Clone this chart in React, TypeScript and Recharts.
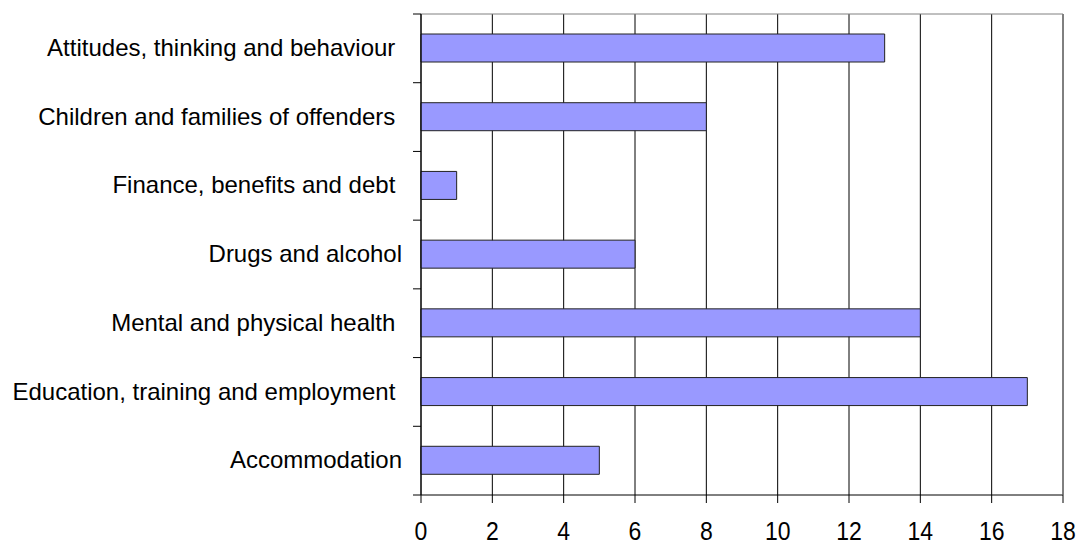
import React from 'react';
import { BarChart, Bar, XAxis, YAxis, CartesianGrid } from 'recharts';

const categories = [
  'Attitudes, thinking and behaviour ',
  'Children and families of offenders ',
  'Finance, benefits and debt ',
  'Drugs and alcohol',
  'Mental and physical health ',
  'Education, training and employment ',
  'Accommodation',
];
const counts = [13, 8, 1, 6, 14, 17, 5];
const xTicks = [0, 2, 4, 6, 8, 10, 12, 14, 16, 18];

const WIDTH = 1084;
const HEIGHT = 545;
const MARGIN = { top: 13, right: 20, bottom: 0, left: 0 };
const Y_AXIS_WIDTH = 421;
const X_AXIS_HEIGHT = 50;
const TOP_AXIS_HEIGHT = 1;
const PLOT_HEIGHT = HEIGHT - MARGIN.top - MARGIN.bottom - X_AXIS_HEIGHT - TOP_AXIS_HEIGHT;
const BAND = PLOT_HEIGHT / categories.length;
const FONT = '"Liberation Sans", Arial, sans-serif';

const data = categories.map((name, i) => ({ name, count: counts[i] }));

const YTick = (props: any) => {
  const { x, y, payload, index, visibleTicksCount } = props;
  const last = index === (visibleTicksCount ?? categories.length) - 1;
  return (
    <g>
      <line x1={x - 8} x2={x} y1={y - BAND / 2} y2={y - BAND / 2} stroke="#000" strokeWidth={1} />
      {last && (
        <line x1={x - 8} x2={x} y1={y + BAND / 2} y2={y + BAND / 2} stroke="#000" strokeWidth={1} />
      )}
      <text
        x={x - 19}
        y={y}
        dy="0.32em"
        textAnchor="end"
        fontSize={24}
        fontFamily={FONT}
        fill="#000"
        style={{ whiteSpace: 'pre' }}
        xmlSpace="preserve"
      >
        {payload.value}
      </text>
    </g>
  );
};

const XTick = (props: any) => {
  const { x, y, payload } = props;
  return (
    <g transform={`translate(${x},${y + 37}) scale(1,1.15)`}>
      <text x={0} y={0} textAnchor="middle" fontSize={23} fontFamily={FONT} fill="#000">
        {payload.value}
      </text>
    </g>
  );
};

export default function App() {
  return (
    <div style={{ position: 'absolute', left: 0, top: 0, background: '#fff' }}>
      <BarChart
        width={WIDTH}
        height={HEIGHT}
        data={data}
        layout="vertical"
        margin={MARGIN}
        barCategoryGap={0}
      >
        <CartesianGrid horizontal={false} vertical={true} stroke="#000" strokeWidth={1} />
        <XAxis
          type="number"
          domain={[0, 18]}
          ticks={xTicks}
          interval={0}
          height={X_AXIS_HEIGHT}
          tickSize={8}
          tickMargin={0}
          axisLine={{ stroke: '#000' }}
          tickLine={{ stroke: '#000' }}
          tick={<XTick />}
        />
        <XAxis
          xAxisId="top"
          orientation="top"
          type="number"
          domain={[0, 18]}
          ticks={xTicks}
          height={TOP_AXIS_HEIGHT}
          tick={false}
          tickLine={false}
          axisLine={{ stroke: '#808080' }}
        />
        <YAxis
          type="category"
          dataKey="name"
          width={Y_AXIS_WIDTH}
          interval={0}
          tickSize={0}
          tickMargin={0}
          tickLine={false}
          axisLine={{ stroke: '#000' }}
          tick={<YTick />}
        />
        <YAxis
          yAxisId="right"
          orientation="right"
          type="category"
          dataKey="name"
          width={1}
          tick={false}
          tickLine={false}
          axisLine={{ stroke: '#808080' }}
        />
        <Bar
          dataKey="count"
          fill="#9999FF"
          stroke="#222"
          strokeWidth={1}
          barSize={28}
          isAnimationActive={false}
        />
      </BarChart>
    </div>
  );
}
